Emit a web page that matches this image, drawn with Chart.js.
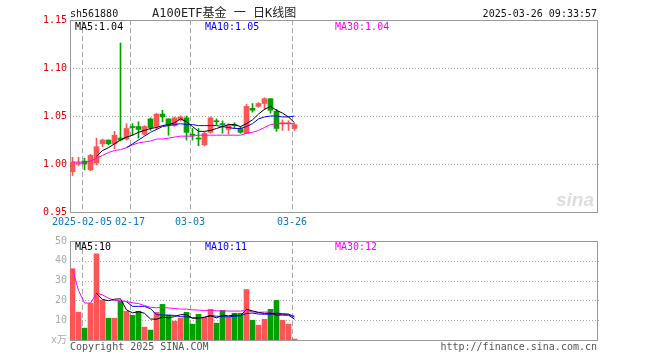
<!DOCTYPE html>
<html lang="zh-CN">
<head>
<meta charset="utf-8">
<title>A100ETF基金 日K线图</title>
<script src="https://cdn.jsdelivr.net/npm/chart.js@4.4.1/dist/chart.umd.min.js"></script>
<style>
    html, body { margin: 0; padding: 0; background: #fff; }
    #wrap { position: relative; width: 660px; height: 360px; }
    #kline { position: absolute; left: 0; top: 0; }
    #vol { position: absolute; left: 0; top: 232px; }
</style>
</head>
<body>
<div id="wrap">
    <canvas id="kline" width="660" height="232"></canvas>
    <canvas id="vol" width="660" height="128"></canvas>
</div>
<script>
// trading days shown on the chart
const dates = ['2025-01-24', '2025-01-27', '2025-02-05', '2025-02-06', '2025-02-07', '2025-02-10', '2025-02-11', '2025-02-12',
    '2025-02-13', '2025-02-14', '2025-02-17', '2025-02-18', '2025-02-19', '2025-02-20', '2025-02-21', '2025-02-24',
    '2025-02-25', '2025-02-26', '2025-02-27', '2025-02-28', '2025-03-03', '2025-03-04', '2025-03-05', '2025-03-06',
    '2025-03-07', '2025-03-10', '2025-03-11', '2025-03-12', '2025-03-13', '2025-03-14', '2025-03-17', '2025-03-18',
    '2025-03-19', '2025-03-20', '2025-03-21', '2025-03-24', '2025-03-25', '2025-03-26'];

const open = [0.992, 1.000, 1.003, 0.994, 1.001, 1.021, 1.025, 1.021, 1.027, 1.026, 1.039, 1.039, 1.031, 1.047, 1.039, 1.052, 1.047, 1.040, 1.046,
    1.048, 1.031, 1.027, 1.020, 1.033, 1.045, 1.042, 1.036, 1.041, 1.037, 1.032, 1.058, 1.060, 1.063, 1.068, 1.055, 1.042, 1.042, 1.037];
const high = [1.007, 1.007, 1.006, 1.010, 1.027, 1.026, 1.025, 1.034, 1.126, 1.042, 1.042, 1.044, 1.040, 1.048, 1.053, 1.056, 1.047, 1.049, 1.050,
    1.050, 1.037, 1.037, 1.033, 1.049, 1.047, 1.045, 1.042, 1.043, 1.039, 1.062, 1.063, 1.064, 1.069, 1.068, 1.057, 1.046, 1.045, 1.042];
const low = [0.988, 0.998, 0.994, 0.993, 0.999, 1.018, 1.020, 1.016, 1.024, 1.025, 1.030, 1.027, 1.030, 1.035, 1.036, 1.044, 1.030, 1.039, 1.045,
    1.025, 1.025, 1.019, 1.019, 1.032, 1.041, 1.032, 1.031, 1.037, 1.032, 1.032, 1.054, 1.059, 1.057, 1.053, 1.034, 1.035, 1.035, 1.035];
const close = [1.002, 1.001, 1.000, 1.009, 1.018, 1.025, 1.021, 1.030, 1.025, 1.037, 1.038, 1.036, 1.039, 1.038, 1.052, 1.049, 1.041, 1.048, 1.049,
    1.033, 1.030, 1.026, 1.032, 1.048, 1.044, 1.041, 1.040, 1.040, 1.033, 1.060, 1.056, 1.063, 1.068, 1.056, 1.037, 1.043, 1.043, 1.041];

const ma5 = [null, null, null, null, 1.008, 1.014, 1.017, 1.021, 1.025, 1.028, 1.030, 1.033, 1.035, 1.037, 1.038, 1.040, 1.041, 1.043, 1.047,
    1.044, 1.039, 1.034, 1.034, 1.035, 1.037, 1.039, 1.041, 1.041, 1.039, 1.042, 1.046, 1.052, 1.057, 1.060, 1.056, 1.053, 1.049, 1.043];
const ma10 = [null, null, null, null, null, null, null, null, null, 1.017, 1.021, 1.025, 1.029, 1.033, 1.036, 1.039, 1.040, 1.041, 1.042,
    1.041, 1.041, 1.040, 1.040, 1.040, 1.040, 1.039, 1.038, 1.037, 1.037, 1.039, 1.042, 1.047, 1.049, 1.050, 1.050, 1.049, 1.049, 1.050];
const ma30 = [1.002, 1.002, 1.002, 1.003, 1.006, 1.009, 1.012, 1.014, 1.015, 1.017, 1.020, 1.022, 1.023, 1.024, 1.026, 1.026, 1.027, 1.028, 1.029,
    1.029, 1.029, 1.030, 1.030, 1.030, 1.030, 1.030, 1.030, 1.030, 1.030, 1.032, 1.033, 1.035, 1.038, 1.041, 1.042, 1.042, 1.042, 1.042];

// volume in 万
const volume = [36, 14, 6, 18.5, 43.5, 20, 11, 11, 19.5, 14.5, 12.5, 14.5, 6.5, 5, 14, 18, 12.5, 9.5, 11, 14, 8, 13, 11, 15.5, 8.5,
    15, 11.5, 13.5, 13.5, 25.5, 10, 7.5, 10.5, 15.5, 20, 10, 8, 0.5];
const volMa5 = [null, null, null, null, 23.5, 20.5, 19.8, 20.6, 20.8, 15.2, 13.7, 14.3, 13.5, 10.6, 10.5, 11.5, 11.2, 11.8, 12.8, 12.8,
    11.0, 11.1, 11.4, 12.2, 11.2, 12.5, 12.2, 12.6, 12.3, 15.5, 14.7, 13.9, 13.4, 13.6, 12.6, 12.6, 12.6, 10.5];
const volMa10 = [null, null, null, null, null, null, null, null, null, 19.3, 17.0, 17.0, 17.0, 15.8, 12.8, 12.6, 12.6, 12.4, 11.8, 11.7,
    11.2, 11.1, 11.5, 12.4, 12.0, 11.8, 11.7, 12.0, 12.2, 13.4, 13.6, 13.1, 13.0, 13.0, 13.6, 13.3, 13.1, 11.5];
const volMa30 = [35.8, 25, 18.7, 18.6, 23.6, 22.8, 21.1, 19.9, 19.9, 19.4, 18.8, 18.4, 17.4, 16.5, 16.3, 16.4, 16.2, 15.9, 15.6, 15.6,
    15.2, 15.1, 14.9, 15.0, 14.7, 14.8, 14.6, 14.6, 14.6, 14.9, 14.2, 14.0, 14.1, 14.1, 13.0, 12.8, 12.7, 12.2];

// axis ticks
const tickIdx = [2, 10, 20, 37];
const tickLabels = ['2025-02-05', '02-17', '03-03', '03-26'];
const priceTicks = [0.95, 1.00, 1.05, 1.10, 1.15];
const volTicks = [0, 10, 20, 30, 40, 50];
const volUnit = 'x万';

const RED = '#ff5555';
const GREEN = '#00a000';
const MONO = '"DejaVu Sans Mono", "Noto Sans CJK SC", monospace';
const SLOTS = 88;                 // the axis has room for 88 days
const HALF = 2.5 / 6;             // half a body, in slot units

const candleColor = close.map((c, i) => c >= open[i] ? RED : GREEN);
const points = arr => arr.map((v, i) => ({ x: i, y: v }));

function lineSet(arr, color) {
    return {
        type: 'line', data: points(arr), borderColor: color, borderWidth: 1,
        pointRadius: 0, tension: 0, order: 0
    };
}

function xAxis(showLabels) {
    return {
        type: 'linear', min: -HALF, max: SLOTS - 1 + HALF, offset: false,
        grid: { display: false, drawTicks: false }, border: { display: false },
        afterBuildTicks: s => { s.ticks = tickIdx.map(i => ({ value: i - HALF })); },
        afterFit: s => { s.height = 20; },
        ticks: {
            display: showLabels, autoSkip: false, maxRotation: 0, padding: 4,
            color: '#0a78c8', font: { family: MONO, size: 10 },
            callback: (v, k) => tickLabels[k]
        }
    };
}

function yAxis(min, max, list, color, fmt) {
    return {
        min: min, max: max,
        grid: { display: false, drawTicks: false }, border: { display: false },
        afterBuildTicks: s => { s.ticks = list.map(v => ({ value: v })); },
        afterFit: s => { s.width = 70; },
        ticks: { padding: 3, color: color, font: { family: MONO, size: 10 }, callback: fmt }
    };
}

// frame, dotted rows and dashed day lines
function drawFrame(chart) {
    const { ctx, chartArea: a, scales: { x, y } } = chart;
    ctx.save();
    ctx.lineWidth = 1;
    ctx.strokeStyle = '#aaaaaa';
    ctx.setLineDash([1, 2]);
    y.ticks.forEach(t => {
        if (t.value <= y.min || t.value >= y.max) return;
        const py = Math.round(y.getPixelForValue(t.value)) + 0.5;
        ctx.beginPath(); ctx.moveTo(a.left, py); ctx.lineTo(a.right + 3, py); ctx.stroke();
    });
    ctx.setLineDash([5, 3]);
    x.ticks.forEach(t => {
        const px = Math.round(x.getPixelForValue(t.value)) + 0.5;
        ctx.beginPath(); ctx.moveTo(px, a.top); ctx.lineTo(px, a.bottom); ctx.stroke();
    });
    ctx.setLineDash([]);
    ctx.strokeStyle = '#999999';
    ctx.strokeRect(a.left + 0.5, a.top + 0.5, a.right - a.left, a.bottom - a.top);
    ctx.restore();
}

function text(ctx, str, x, y, color, size, align) {
    ctx.font = size + 'px ' + MONO;
    ctx.fillStyle = color;
    ctx.textAlign = align || 'left';
    ctx.textBaseline = 'alphabetic';
    ctx.fillText(str, x, y);
}

const last = arr => arr[arr.length - 1];

const klineDeco = {
    id: 'klineDeco',
    beforeDatasetsDraw(chart) {
        const ctx = chart.ctx;
        drawFrame(chart);
        ctx.save();
        ctx.font = 'italic bold 19px "Liberation Sans", sans-serif';
        ctx.fillStyle = '#dedede';
        ctx.textAlign = 'left';
        ctx.fillText('sina', 556, 206);
        ctx.restore();
    },
    afterDraw(chart) {
        const ctx = chart.ctx;
        ctx.save();
        text(ctx, 'sh561880', 70, 17, '#111', 10);
        text(ctx, 'A100ETF基金 一 日K线图', 152, 17, '#222', 12);
        text(ctx, dates[dates.length - 1] + ' 09:33:57', 597, 17, '#111', 10, 'right');
        text(ctx, 'MA5:' + last(ma5).toFixed(2), 75, 30, '#000', 10);
        text(ctx, 'MA10:' + last(ma10).toFixed(2), 205, 30, '#0000ff', 10);
        text(ctx, 'MA30:' + last(ma30).toFixed(2), 335, 30, '#ff00ff', 10);
        ctx.restore();
    }
};

const volDeco = {
    id: 'volDeco',
    beforeDatasetsDraw(chart) { drawFrame(chart); },
    afterDraw(chart) {
        const ctx = chart.ctx;
        ctx.save();
        text(ctx, 'MA5:' + Math.floor(last(volMa5)), 75, 18, '#000', 10);
        text(ctx, 'MA10:' + Math.floor(last(volMa10)), 205, 18, '#0000ff', 10);
        text(ctx, 'MA30:' + Math.floor(last(volMa30)), 335, 18, '#ff00ff', 10);
        text(ctx, 'Copyright 2025 SINA.COM', 70, 118, '#555', 10);
        text(ctx, 'http://finance.sina.com.cn', 597, 118, '#555', 10, 'right');
        ctx.restore();
    }
};

const common = {
    responsive: false,
    animation: false,
    events: [],
    plugins: { legend: { display: false }, tooltip: { enabled: false } }
};

new Chart(document.getElementById('kline'), {
    type: 'bar',
    data: {
        datasets: [
            lineSet(ma5, '#000000'),
            lineSet(ma10, '#0000ff'),
            lineSet(ma30, '#ff00ff'),
            {
                data: close.map((c, i) => ({ x: i, y: [Math.min(open[i], c), Math.max(open[i], c)] })),
                backgroundColor: candleColor, barThickness: 5, minBarLength: 1, grouped: false, order: 2
            },
            {
                data: close.map((c, i) => ({ x: i, y: [low[i], high[i]] })),
                backgroundColor: candleColor, barThickness: 1, grouped: false, order: 3
            }
        ]
    },
    options: Object.assign({}, common, {
        layout: { padding: { top: 20, right: 63, left: 0, bottom: 0 } },
        scales: {
            x: xAxis(true),
            y: yAxis(0.95, 1.15, priceTicks, '#e00000', v => v.toFixed(2))
        }
    }),
    plugins: [klineDeco]
});

new Chart(document.getElementById('vol'), {
    type: 'bar',
    data: {
        datasets: [
            lineSet(volMa5, '#000000'),
            lineSet(volMa10, '#0000ff'),
            lineSet(volMa30, '#ff00ff'),
            {
                data: points(volume),
                backgroundColor: candleColor, barThickness: 5, grouped: false, order: 2
            }
        ]
    },
    options: Object.assign({}, common, {
        layout: { padding: { top: 8, right: 63, left: 0, bottom: 0 } },
        scales: {
            x: xAxis(false),
            y: yAxis(0, 50, volTicks, '#aaaaaa', v => v === 0 ? volUnit : v)
        }
    }),
    plugins: [volDeco]
});
</script>
</body>
</html>
